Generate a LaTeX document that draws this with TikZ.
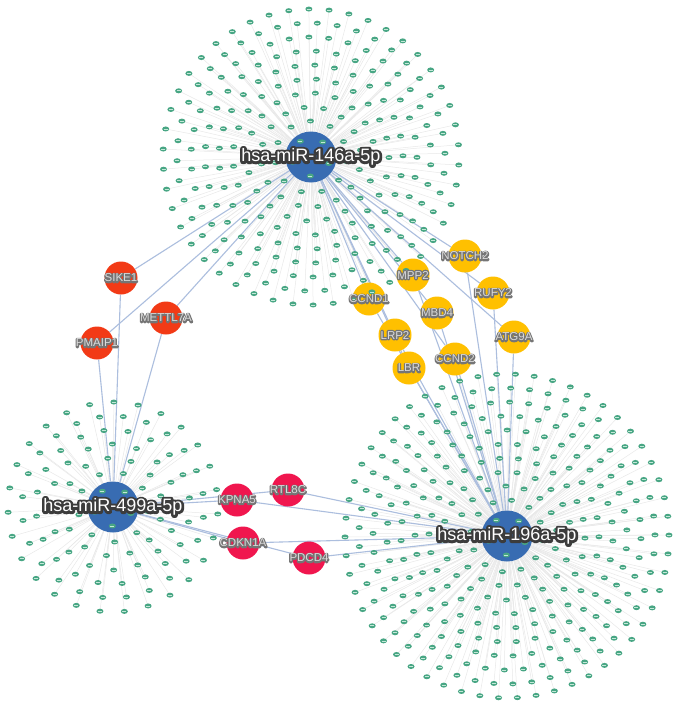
\documentclass[tikz,border=0pt]{standalone}
\usepackage{fontspec}
\setmainfont{Liberation Sans}
\usetikzlibrary{shapes.geometric}
\pgfdeclarelayer{bg}
\pgfdeclarelayer{edges}
\pgfsetlayers{bg,edges,main}
\definecolor{hubblue}{RGB}{56,108,178}
\definecolor{genered}{RGB}{242,58,22}
\definecolor{geneyellow}{RGB}{255,192,0}
\definecolor{genepink}{RGB}{240,22,78}
\definecolor{dotgreen}{RGB}{72,166,132}
\definecolor{dotline}{RGB}{196,232,216}
\definecolor{edgeblue}{RGB}{172,190,222}
\definecolor{faintgray}{RGB}{233,233,233}
\definecolor{hubhalo}{RGB}{60,60,60}
\definecolor{genehalo}{RGB}{118,118,118}
\definecolor{genetext}{RGB}{218,218,218}
% #1 halo colour, #2 halo colour as "r g b" for PDF, #3 stroke width, #4 text colour, #5 text
\newcommand\halotext[5]{\rlap{\color{#1}\special{pdf:literal direct 1 Tr #3 w 1 j 1 J #2 RG}#5\special{pdf:literal direct 0 Tr 0.4 w}}{\color{#4}#5}}
\tikzset{
 hub/.style={circle,fill=hubblue,minimum size=51pt,inner sep=0pt},
 gene/.style={circle,minimum size=33pt,inner sep=0pt},
 red/.style={gene,fill=genered},
 yel/.style={gene,fill=geneyellow},
 pnk/.style={gene,fill=genepink},
 dotnode/.style={ellipse,fill=dotgreen,minimum width=7pt,minimum height=5pt,inner sep=0pt,
   path picture={\draw[dotline,line width=0.7pt] ([xshift=-2pt]path picture bounding box.center) -- ([xshift=2pt]path picture bounding box.center);}},
 faint/.style={faintgray,line width=0.5pt},
 link/.style={edgeblue,line width=1.1pt},
 hublabel/.style={inner sep=0pt,font=\fontsize{18}{19}\selectfont},
 genelabel/.style={inner sep=0pt,font=\fontsize{11.5}{12}\selectfont},
}
\newcommand\cloudlist{h146/311/157/20/{36,50,64,78,92,106,120,134,148},
                      h499/113/507/24/{35,49,63,77,91,105},
                      h196/507/536/19/{36,50,64,78,92,106,120,134,148,162}}
\begin{document}
\begin{tikzpicture}[x=1pt,y=-1pt]
\begin{pgfonlayer}{bg}
\fill[white] (0,0) rectangle (685,713);
\end{pgfonlayer}
\useasboundingbox (0,0) rectangle (685,713);
% hubs
\node[hub] (h146) at (311,157) {};
\node[hub] (h499) at (113,507) {};
\node[hub] (h196) at (507,536) {};
% genes
\node[red] (SIKE1) at (121,278) {};
\node[red] (PMAIP1) at (97,343) {};
\node[red] (METTL7A) at (166,318) {};
\node[yel] (NOTCH2) at (465,256) {};
\node[yel] (MPP2) at (413,275) {};
\node[yel] (RUFY2) at (493,293) {};
\node[yel] (CCND1) at (369,299) {};
\node[yel] (MBD4) at (437,313) {};
\node[yel] (ATG9A) at (514,337) {};
\node[yel] (LRP2) at (395,335) {};
\node[yel] (CCND2) at (455,359) {};
\node[yel] (LBR) at (409,368) {};
\node[pnk] (KPNA5) at (237,500) {};
\node[pnk] (RTL8C) at (288,490) {};
\node[pnk] (CDKN1A) at (243,543) {};
\node[pnk] (PDCD4) at (309,558) {};
% target dots
\foreach \h/\cx/\cy/\spc/\rings in \cloudlist {
  \foreach \rr [count=\ri] in \rings {
    \pgfmathtruncatemacro\nn{round(2*pi*\rr/\spc)}
    \foreach \k in {1,...,\nn}{
      \pgfmathsetmacro\ang{360/\nn*\k+\ri*7.3}
      \node[dotnode] (d-\h-\ri-\k) at ([shift={(\ang:\rr)}]\cx,\cy) {};
    }
  }
  \foreach \k in {1,...,5}{
    \pgfmathsetmacro\ang{\k*72+20}
    \node[dotnode] (c-\h-\k) at ([shift={(\ang:19)}]\cx,\cy) {};
  }
}
% faint target edges
\begin{pgfonlayer}{bg}
\foreach \h/\cx/\cy/\spc/\rings in \cloudlist {
  \foreach \rr [count=\ri] in \rings {
    \pgfmathtruncatemacro\nn{round(2*pi*\rr/\spc)}
    \foreach \k in {1,...,\nn}{
      \draw[faint] (\h.center) -- (d-\h-\ri-\k.center);
    }
  }
}
\end{pgfonlayer}
% links
\begin{pgfonlayer}{edges}
\foreach \g in {SIKE1,PMAIP1,METTL7A}{\draw[link] (h146) -- (\g); \draw[link] (h499) -- (\g);}
\foreach \g in {NOTCH2,MPP2,RUFY2,CCND1,MBD4,ATG9A,LRP2,CCND2,LBR}{\draw[link] (h146) -- (\g); \draw[link] (h196) -- (\g);}
\foreach \g in {KPNA5,RTL8C,CDKN1A,PDCD4}{\draw[link] (h499) -- (\g); \draw[link] (h196) -- (\g);}
\end{pgfonlayer}
% labels
\node[hublabel] (h146-t) at (h146) {\halotext{hubhalo}{0.235 0.235 0.235}{5}{white}{hsa-miR-146a-5p}};
\node[hublabel] (h499-t) at (h499) {\halotext{hubhalo}{0.235 0.235 0.235}{5}{white}{hsa-miR-499a-5p}};
\node[hublabel] (h196-t) at (h196) {\halotext{hubhalo}{0.235 0.235 0.235}{5}{white}{hsa-miR-196a-5p}};
\foreach \g in {SIKE1,PMAIP1,METTL7A,NOTCH2,MPP2,RUFY2,CCND1,MBD4,ATG9A,LRP2,CCND2,LBR,KPNA5,RTL8C,CDKN1A,PDCD4}{
  \node[genelabel] (\g-t) at (\g) {\halotext{genehalo}{0.46 0.46 0.46}{2.6}{genetext}{\g}};
}
\end{tikzpicture}
\end{document}
